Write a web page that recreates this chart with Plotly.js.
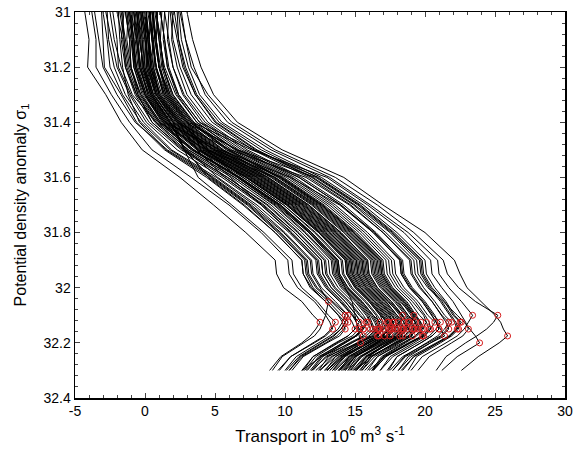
<!DOCTYPE html>
<html>
<head>
<meta charset="utf-8">
<script src="https://cdn.plot.ly/plotly-3.0.1.min.js"></script>
<style>html,body{margin:0;padding:0;background:#fff;}#chart{width:573px;height:452px;}</style>
</head>
<body>
<div id="chart"></div>
<script>
// Density levels (sigma_1) shared by all profiles
const sigma = [31.0, 31.1, 31.2, 31.3, 31.4, 31.5, 31.6, 31.7, 31.8, 31.9, 31.95, 32.0, 32.05, 32.1, 32.125, 32.15, 32.175, 32.2, 32.25, 32.3];

// Tick labels
const xTickVals = [-5, 0, 5, 10, 15, 20, 25, 30];
const xTickText = ['-5', '0', '5', '10', '15', '20', '25', '30'];

// Transport profiles (10^6 m^3 s^-1), one per section
const L1  = [-4.3, -4.0, -4.1, -2.8, -1.7, -0.2, 2.5, 4.9, 7.2, 9.3, 9.4, 9.9, 11.2, 12.0, 12.5, 12.2, 11.8, 11.2, 9.7, 8.9];
const L2  = [-3.8, -3.5, -3.5, -2.4, -1.1, 0.5, 3.3, 6.0, 8.3, 10.2, 10.3, 10.9, 12.1, 12.9, 13.2, 13.4, 12.9, 12.1, 10.4, 9.6];
const L3  = [-3.1, -3.0, -2.9, -1.7, -0.6, 1.4, 4.4, 7.0, 9.3, 11.2, 11.3, 11.8, 12.9, 13.8, 14.1, 14.3, 13.9, 13.0, 11.3, 10.5];
const L4  = [-1.9, -1.8, -1.6, -1.2, -0.4, 1.5, 4.6, 7.3, 9.5, 11.4, 11.5, 12.0, 13.1, 14.0, 14.5, 14.2, 13.7, 12.9, 11.2, 10.3];
const L5  = [-2.7, -2.6, -2.2, -1.4, -0.1, 1.9, 5.1, 7.8, 10.0, 11.9, 12.0, 12.6, 13.6, 14.5, 14.8, 15.0, 14.5, 13.6, 12.0, 11.3];
const L6  = [-3.6, -3.3, -3.0, -2.0, -0.7, 1.6, 4.8, 7.5, 9.7, 11.6, 11.7, 12.3, 13.4, 14.5, 14.3, 14.0, 13.4, 12.6, 11.0, 10.1];
const L7  = [-2.3, -2.0, -1.9, -1.0, 0.3, 2.6, 5.7, 8.4, 10.7, 12.6, 12.7, 13.3, 14.3, 15.1, 15.4, 15.6, 15.1, 14.3, 12.6, 11.8];
const L8  = [-1.5, -1.7, -1.4, -0.7, 0.5, 2.8, 5.9, 8.7, 10.9, 12.8, 12.9, 13.5, 14.5, 15.3, 15.8, 15.5, 15.0, 14.1, 12.5, 11.5];
const L9  = [-2.8, -2.4, -2.0, -1.1, 0.1, 2.3, 5.5, 8.3, 10.5, 12.4, 12.5, 13.1, 14.1, 14.9, 15.1, 15.3, 15.6, 14.6, 12.9, 12.0];
const L10 = [-1.8, -1.5, -1.4, -0.6, 0.7, 2.9, 6.2, 9.0, 11.2, 13.1, 13.2, 13.8, 14.8, 15.6, 15.9, 16.1, 15.6, 14.8, 13.1, 12.4];
const L11 = [-1.2, -1.3, -1.0, -0.5, 0.5, 2.7, 5.9, 8.8, 11.0, 12.9, 13.0, 13.6, 14.6, 15.4, 15.9, 15.6, 15.1, 14.2, 12.4, 11.6];
const L12 = [-2.5, -2.2, -1.7, -0.9, 0.8, 3.1, 6.4, 9.2, 11.4, 13.3, 13.4, 14.0, 15.0, 15.8, 16.1, 16.3, 15.8, 14.7, 12.6, 11.2];
const L13 = [-1.4, -1.1, -1.0, -0.3, 1.0, 3.3, 6.6, 9.5, 11.7, 13.6, 13.7, 14.3, 15.3, 16.1, 16.4, 16.6, 16.1, 15.3, 13.6, 12.9];
const L14 = [-0.9, -1.0, -0.6, 0.0, 1.2, 3.5, 6.8, 9.7, 11.9, 13.8, 13.9, 14.5, 15.5, 16.3, 16.8, 16.5, 16.0, 15.1, 13.4, 12.5];
const L15 = [-2.0, -1.6, -1.3, -0.6, 0.8, 3.1, 6.4, 9.3, 11.5, 13.4, 13.5, 14.1, 15.1, 15.9, 16.1, 16.3, 16.6, 15.6, 13.9, 13.0];
const L16 = [-1.6, -1.5, -1.2, -0.5, 0.9, 3.4, 6.7, 9.6, 11.8, 13.7, 13.8, 14.4, 15.4, 16.2, 16.5, 16.7, 16.2, 15.2, 13.3, 12.2];
const L17 = [-1.1, -0.9, -0.8, -0.1, 1.3, 3.7, 7.0, 9.9, 12.2, 14.1, 14.2, 14.8, 15.8, 16.6, 16.9, 17.0, 16.6, 15.8, 14.2, 13.4];
const L18 = [-0.5, -0.6, -0.3, 0.2, 1.5, 3.8, 7.2, 10.1, 12.4, 14.3, 14.4, 15.0, 16.0, 16.8, 17.3, 17.0, 16.5, 15.6, 13.8, 12.8];
const L19 = [-1.7, -1.4, -1.1, -0.3, 1.1, 3.5, 6.8, 9.7, 11.9, 13.8, 13.9, 14.5, 15.5, 16.3, 16.6, 16.8, 16.3, 15.4, 13.6, 12.5];
const L20 = [-0.8, -0.7, -0.5, 0.1, 1.4, 3.9, 7.3, 10.2, 12.5, 14.4, 14.5, 15.1, 16.1, 16.9, 17.4, 17.1, 16.4, 15.2, 13.0, 11.9];
const L21 = [-0.8, -0.5, -0.4, 0.3, 1.6, 4.0, 7.4, 10.3, 12.6, 14.5, 14.6, 15.2, 16.2, 17.0, 17.3, 17.5, 17.0, 16.2, 14.6, 13.9];
const L22 = [-0.3, -0.2, 0.0, 0.5, 1.8, 4.2, 7.6, 10.5, 12.8, 14.7, 14.8, 15.4, 16.4, 17.2, 17.7, 17.4, 16.9, 16.0, 14.3, 13.4];
const L23 = [-1.2, -0.9, -0.7, 0.0, 1.4, 3.8, 7.2, 10.1, 12.4, 14.3, 14.4, 15.0, 16.0, 16.8, 17.0, 17.2, 17.5, 16.5, 14.8, 13.8];
const L24 = [-0.6, -0.4, -0.1, 0.4, 1.7, 4.1, 7.5, 10.4, 12.7, 14.6, 14.7, 15.3, 16.3, 17.1, 17.4, 17.6, 17.2, 16.5, 15.1, 14.5];
const L25 = [-1.0, -0.8, -0.6, 0.1, 1.5, 3.9, 7.3, 10.2, 12.5, 14.4, 14.5, 15.1, 16.1, 16.9, 17.2, 17.4, 16.9, 16.0, 14.2, 13.2];
const L26 = [-0.5, -0.3, -0.2, 0.5, 1.9, 4.4, 7.8, 10.7, 13.0, 14.9, 15.0, 15.6, 16.6, 17.4, 17.7, 17.9, 17.4, 16.6, 15.0, 14.3];
const L27 = [0.1, 0.0, 0.3, 0.8, 2.1, 4.6, 8.0, 10.9, 13.2, 15.1, 15.2, 15.8, 16.8, 17.6, 18.1, 17.8, 17.3, 16.4, 14.7, 13.8];
const L28 = [-1.0, -0.6, -0.4, 0.3, 1.7, 4.2, 7.6, 10.5, 12.8, 14.7, 14.8, 15.4, 16.4, 17.2, 17.5, 17.7, 17.2, 16.3, 14.5, 13.5];
const L29 = [-0.2, 0.1, 0.1, 0.6, 2.0, 4.5, 7.9, 10.8, 13.1, 15.0, 15.1, 15.7, 16.7, 17.5, 17.7, 17.9, 18.2, 17.2, 15.5, 14.6];
const L30 = [-0.7, -0.5, -0.3, 0.4, 1.8, 4.3, 7.7, 10.6, 12.9, 14.8, 14.9, 15.5, 16.5, 17.3, 17.8, 17.5, 16.9, 15.9, 14.0, 13.0];
const L31 = [-0.2, 0.1, 0.2, 0.8, 2.2, 4.7, 8.2, 11.1, 13.4, 15.3, 15.4, 16.0, 17.0, 17.8, 18.1, 18.3, 17.8, 17.0, 15.4, 14.7];
const L32 = [0.4, 0.3, 0.6, 1.0, 2.4, 4.9, 8.4, 11.3, 13.6, 15.5, 15.6, 16.2, 17.2, 18.0, 18.5, 18.2, 17.7, 16.8, 15.0, 14.1];
const L33 = [-0.6, -0.4, -0.1, 0.6, 2.0, 4.5, 8.0, 10.9, 13.2, 15.1, 15.2, 15.8, 16.8, 17.6, 17.9, 18.1, 17.6, 16.7, 14.9, 13.9];
const L34 = [0.0, 0.2, 0.4, 0.9, 2.3, 4.8, 8.3, 11.2, 13.5, 15.4, 15.5, 16.1, 17.1, 17.9, 18.2, 18.4, 18.0, 17.3, 16.0, 15.4];
const L35 = [-0.4, -0.1, 0.0, 0.6, 2.1, 4.6, 8.1, 11.0, 13.3, 15.2, 15.3, 15.9, 16.9, 17.7, 17.9, 18.1, 18.4, 17.4, 15.7, 14.8];
const L36 = [0.1, 0.3, 0.4, 1.0, 2.5, 5.1, 8.6, 11.5, 13.8, 15.7, 15.8, 16.4, 17.4, 18.2, 18.5, 18.7, 18.2, 17.4, 15.8, 15.1];
const L37 = [0.6, 0.5, 0.8, 1.3, 2.7, 5.3, 8.8, 11.7, 14.0, 15.9, 16.0, 16.6, 17.6, 18.4, 18.9, 18.6, 18.1, 17.2, 15.4, 14.5];
const L38 = [-0.3, 0.0, 0.1, 0.8, 2.3, 4.9, 8.4, 11.3, 13.6, 15.5, 15.6, 16.2, 17.2, 18.0, 18.3, 18.5, 18.0, 17.1, 15.3, 14.3];
const L39 = [0.3, 0.5, 0.6, 1.2, 2.6, 5.2, 8.7, 11.6, 13.9, 15.8, 15.9, 16.5, 17.5, 18.3, 18.8, 18.5, 17.9, 16.9, 15.0, 14.0];
const L40 = [-0.1, 0.2, 0.3, 0.9, 2.4, 5.0, 8.5, 11.4, 13.7, 15.6, 15.7, 16.3, 17.3, 18.4, 18.2, 17.9, 17.4, 16.6, 15.0, 14.2];
const L41 = [0.3, 0.6, 0.7, 1.4, 2.8, 5.4, 9.0, 11.9, 14.2, 16.1, 16.2, 16.8, 17.8, 18.6, 18.9, 19.1, 18.6, 17.8, 16.2, 15.5];
const L42 = [0.9, 0.8, 1.1, 1.6, 3.0, 5.6, 9.2, 12.1, 14.4, 16.3, 16.4, 17.0, 18.0, 18.8, 19.3, 19.0, 18.5, 17.6, 15.8, 14.9];
const L43 = [0.0, 0.3, 0.4, 1.1, 2.6, 5.2, 8.8, 11.7, 14.0, 15.9, 16.0, 16.6, 17.6, 18.4, 18.6, 18.8, 19.1, 18.1, 16.4, 15.5];
const L44 = [0.5, 0.7, 1.0, 1.5, 2.9, 5.5, 9.1, 12.0, 14.3, 16.2, 16.3, 16.9, 17.9, 18.7, 19.0, 19.2, 18.8, 17.9, 16.1, 15.1];
const L45 = [0.6, 0.8, 1.0, 1.7, 3.2, 5.8, 9.5, 12.4, 14.7, 16.6, 16.7, 17.3, 18.3, 19.0, 19.3, 19.5, 19.0, 18.2, 16.6, 15.9];
const L46 = [1.2, 1.1, 1.3, 1.9, 3.4, 6.0, 9.7, 12.6, 14.9, 16.8, 16.9, 17.5, 18.5, 19.2, 19.7, 19.4, 18.9, 18.0, 16.2, 15.3];
const L47 = [0.2, 0.5, 0.8, 1.5, 3.0, 5.6, 9.3, 12.2, 14.5, 16.4, 16.5, 17.1, 18.1, 18.8, 19.1, 19.3, 18.8, 17.9, 16.1, 15.0];
const L48 = [0.8, 1.0, 1.2, 1.8, 3.3, 5.9, 9.6, 12.5, 14.8, 16.7, 16.8, 17.4, 18.4, 19.1, 19.3, 19.5, 19.8, 18.8, 17.1, 16.2];
const L49 = [0.8, 1.1, 1.3, 2.0, 3.5, 6.2, 9.9, 12.8, 15.1, 17.0, 17.1, 17.7, 18.7, 19.4, 19.7, 19.9, 19.4, 18.6, 17.0, 16.3];
const L50 = [1.4, 1.3, 1.6, 2.3, 3.7, 6.4, 10.1, 13.0, 15.3, 17.2, 17.3, 17.9, 18.9, 19.6, 20.1, 19.8, 19.3, 18.4, 16.6, 15.7];
const L51 = [0.5, 0.8, 1.0, 1.8, 3.3, 6.0, 9.7, 12.6, 14.9, 16.8, 16.9, 17.5, 18.5, 19.2, 19.4, 19.6, 19.9, 18.9, 17.2, 16.3];
const L52 = [1.1, 1.4, 1.7, 2.4, 3.9, 6.7, 10.5, 13.4, 15.7, 17.6, 17.7, 18.3, 19.3, 20.0, 20.3, 20.4, 20.0, 19.2, 17.5, 16.8];
const L53 = [1.7, 1.6, 2.0, 2.7, 4.1, 6.9, 10.7, 13.6, 15.9, 17.8, 17.9, 18.5, 19.5, 20.2, 20.7, 20.4, 19.9, 19.0, 17.2, 16.3];
const L54 = [0.7, 1.0, 1.4, 2.2, 3.7, 6.5, 10.3, 13.2, 15.5, 17.4, 17.5, 18.1, 19.1, 19.9, 20.1, 20.3, 19.8, 18.9, 17.1, 16.0];
const L55 = [1.4, 1.7, 2.0, 2.8, 4.3, 7.1, 11.0, 14.0, 16.3, 18.2, 18.3, 18.9, 19.8, 20.5, 20.8, 21.0, 20.5, 19.7, 18.0, 17.4];
const L56 = [2.0, 1.9, 2.3, 3.0, 4.5, 7.3, 11.2, 14.2, 16.5, 18.4, 18.5, 19.1, 20.0, 20.7, 20.9, 21.1, 21.4, 20.4, 18.6, 17.7];
const L57 = [1.8, 2.0, 2.5, 3.3, 4.8, 7.7, 11.7, 14.7, 17.0, 19.0, 19.1, 19.7, 20.5, 21.2, 21.5, 21.7, 21.2, 20.4, 18.8, 18.1];
const L58 = [2.3, 2.4, 2.8, 3.6, 5.0, 7.9, 11.9, 14.9, 17.2, 19.2, 19.3, 19.9, 20.7, 21.4, 21.9, 21.6, 21.1, 20.2, 18.4, 17.5];
const L59 = [2.1, 2.4, 2.9, 3.7, 5.3, 8.3, 12.3, 15.3, 17.7, 19.7, 19.8, 20.4, 21.2, 21.9, 22.2, 22.4, 21.9, 21.1, 19.4, 18.8];
const L60 = [2.6, 2.9, 3.5, 4.3, 5.9, 9.0, 13.2, 16.1, 18.8, 20.9, 21.0, 21.7, 22.6, 23.4, 23.1, 22.8, 22.3, 21.5, 19.8, 19.0];
const L61 = [3.0, 3.4, 4.0, 4.9, 6.6, 9.8, 14.2, 17.0, 20.0, 22.1, 22.5, 23.0, 24.0, 25.0, 25.4, 25.6, 25.9, 25.3, 23.8, 22.6];
const L62 = [2.5, 2.9, 3.3, 4.5, 6.2, 9.3, 13.6, 16.6, 19.2, 21.3, 21.6, 22.4, 23.6, 25.2, 24.9, 24.4, 23.7, 22.9, 21.5, 20.8];
const L63 = [1.9, 2.3, 2.7, 3.6, 5.1, 8.0, 12.0, 15.0, 17.5, 19.4, 19.5, 20.2, 21.3, 22.3, 22.8, 23.2, 23.6, 23.9, 22.3, 21.2];
const L64 = [2.4, 2.6, 3.1, 3.9, 5.5, 8.6, 12.6, 15.6, 18.0, 20.0, 20.1, 20.7, 21.5, 22.1, 22.6, 22.3, 21.8, 20.9, 19.2, 18.4];
const L65 = [-3.0, -2.7, -2.5, -1.6, -0.3, 1.8, 4.9, 7.6, 9.9, 11.8, 11.9, 12.5, 13.1, 12.9, 12.7, 12.5, 12.1, 11.3, 9.8, 9.1];
const L66 = [-1.3, -1.0, -0.8, -0.2, 1.1, 3.4, 6.7, 9.6, 11.8, 13.7, 13.8, 14.3, 14.8, 15.0, 15.1, 15.2, 15.3, 15.4, 14.1, 13.0];
const L67 = [-0.5, -0.2, -0.1, 0.5, 1.8, 2.9, 4.5, 7.1, 9.3, 11.2, 11.3, 11.9, 12.9, 13.8, 14.3, 14.0, 13.5, 12.7, 11.1, 10.3];
const L68 = [0.1, 0.2, 0.5, 1.0, 2.4, 3.7, 5.7, 8.5, 10.7, 12.6, 12.7, 13.3, 14.3, 15.1, 15.4, 15.6, 15.1, 14.3, 12.7, 11.9];
const L69 = [-1.1, -0.8, -0.7, 0.0, 1.3, 3.0, 5.2, 8.0, 10.3, 12.2, 12.3, 12.9, 13.9, 14.8, 15.1, 15.3, 14.8, 13.8, 12.2, 11.4];
const L70 = [0.4, 0.5, 0.8, 1.3, 2.7, 4.4, 6.6, 9.4, 11.7, 13.5, 13.6, 14.2, 15.2, 16.0, 16.2, 16.4, 16.7, 15.8, 14.1, 13.2];
const L71 = [-0.2, 0.1, 0.2, 0.7, 2.0, 2.8, 3.8, 6.2, 8.5, 10.5, 10.6, 11.2, 12.3, 13.1, 13.6, 13.3, 12.8, 12.0, 10.4, 9.5];
const L72 = [-1.1, -0.8, -0.7, 0.0, 1.4, 5.4, 10.4, 13.9, 16.3, 18.2, 18.3, 18.9, 19.8, 20.5, 20.8, 21.0, 20.5, 19.7, 18.0, 17.3];
const L73 = [-0.3, 0.0, 0.3, 0.8, 2.3, 6.1, 11.5, 14.6, 17.0, 18.9, 19.0, 19.6, 20.5, 21.2, 21.7, 21.4, 20.9, 20.1, 18.5, 17.7];
const L74 = [0.3, 0.6, 0.8, 1.4, 2.9, 6.6, 12.2, 15.2, 17.6, 19.6, 19.7, 20.3, 21.1, 21.8, 22.1, 22.3, 21.8, 20.9, 19.2, 18.3];
const L75 = [0.8, 1.1, 1.3, 2.0, 3.4, 7.6, 13.0, 15.9, 18.5, 20.4, 20.5, 21.2, 22.0, 22.6, 22.9, 23.1, 22.7, 21.9, 20.3, 19.5];
const L76 = [-0.8, -0.6, -0.4, 0.2, 1.6, 5.0, 9.8, 12.7, 15.0, 16.9, 17.0, 17.6, 18.6, 19.3, 19.6, 19.8, 19.3, 18.5, 16.9, 16.2];
const L77 = [0.5, 0.8, 1.0, 1.7, 3.1, 6.6, 11.0, 14.0, 16.4, 18.3, 18.4, 19.0, 19.9, 20.6, 21.1, 20.8, 20.3, 19.4, 17.7, 16.8];
const L78 = [1.1, 1.4, 1.6, 2.4, 3.9, 7.8, 12.4, 15.4, 17.8, 19.8, 19.9, 20.5, 21.4, 22.0, 22.5, 22.2, 21.7, 20.8, 19.0, 18.1];
const L79 = [-1.4, -1.1, -1.0, -0.4, 1.0, 4.4, 9.3, 12.3, 14.6, 16.5, 16.6, 17.2, 18.2, 19.2, 19.0, 18.8, 18.3, 17.5, 15.9, 15.0];
const L80 = [0.0, 0.3, 0.5, 1.1, 2.5, 4.4, 7.0, 9.9, 12.1, 14.0, 14.1, 14.7, 15.7, 16.5, 16.7, 16.9, 17.1, 16.2, 14.6, 13.6];
const L81 = [0.6, 0.7, 1.0, 1.6, 3.1, 4.0, 6.1, 8.3, 10.4, 12.3, 12.4, 13.0, 14.0, 14.8, 15.3, 15.0, 14.5, 13.7, 12.0, 11.2];
const L82 = [-0.6, -0.3, -0.2, 0.4, 1.8, 2.8, 4.7, 7.4, 9.6, 11.5, 11.6, 12.2, 13.3, 14.3, 14.1, 13.8, 13.2, 12.4, 10.8, 10.0];

const profiles = [L1, L2, L3, L4, L5, L6, L7, L8, L9, L10, L11, L12, L13, L14, L15, L16, L17, L18, L19, L20,
  L21, L22, L23, L24, L25, L26, L27, L28, L29, L30, L31, L32, L33, L34, L35, L36, L37, L38, L39, L40,
  L41, L42, L43, L44, L45, L46, L47, L48, L49, L50, L51, L52, L53, L54, L55, L56, L57, L58, L59, L60,
  L61, L62, L63, L64, L65, L66, L67, L68, L69, L70, L71, L72, L73, L74, L75, L76, L77, L78, L79, L80,
  L81, L82];

const traces = profiles.map(p => ({
  type: 'scatter', mode: 'lines', x: p, y: sigma,
  line: {color: '#000', width: 1}, hoverinfo: 'skip', showlegend: false
}));

// Maximum transport of each profile (red circles)
const peakX = [], peakY = [];
profiles.forEach(p => {
  let k = 0;
  for (let i = 1; i < p.length; i++) if (p[i] > p[k]) k = i;
  peakX.push(p[k]); peakY.push(sigma[k]);
});
traces.push({
  type: 'scatter', mode: 'markers', x: peakX, y: peakY,
  marker: {symbol: 'circle-open', size: 6, color: 'rgb(214,30,30)', line: {width: 1}},
  hoverinfo: 'skip', showlegend: false
});

const font = {family: 'Liberation Sans, Arial, sans-serif', size: 13, color: '#000'};
const layout = {
  width: 573, height: 452,
  margin: {l: 75, r: 8, t: 12, b: 54},
  paper_bgcolor: '#fff', plot_bgcolor: '#fff',
  font: font,
  showlegend: false,
  xaxis: {
    range: [-5, 30], tickmode: 'array', tickvals: xTickVals, ticktext: xTickText,
    ticks: 'inside', ticklen: 5, tickwidth: 1,
    minor: {tickmode: 'linear', tick0: -5, dtick: 1, ticks: 'inside', ticklen: 3, tickwidth: 1},
    showline: true, linecolor: '#000', linewidth: 1.5, mirror: 'ticks',
    showgrid: false, zeroline: false,
    tickfont: {size: 14},
    title: {text: 'Transport in 10<sup>6</sup> m<sup>3</sup> s<sup>-1</sup>', font: {size: 17}, standoff: 12}
  },
  yaxis: {
    range: [32.4, 31], tick0: 31, dtick: 0.2, ticks: 'inside', ticklen: 5, tickwidth: 1,
    minor: {dtick: 0.04, ticks: 'inside', ticklen: 3, tickwidth: 1},
    showline: true, linecolor: '#000', linewidth: 1.5, mirror: 'ticks',
    showgrid: false, zeroline: false,
    tickfont: {size: 14},
    title: {text: 'Potential density anomaly σ<sub>1</sub>', font: {size: 16}, standoff: 13}
  }
};
Plotly.newPlot('chart', traces, layout, {staticPlot: true, displayModeBar: false});
</script>
</body>
</html>
